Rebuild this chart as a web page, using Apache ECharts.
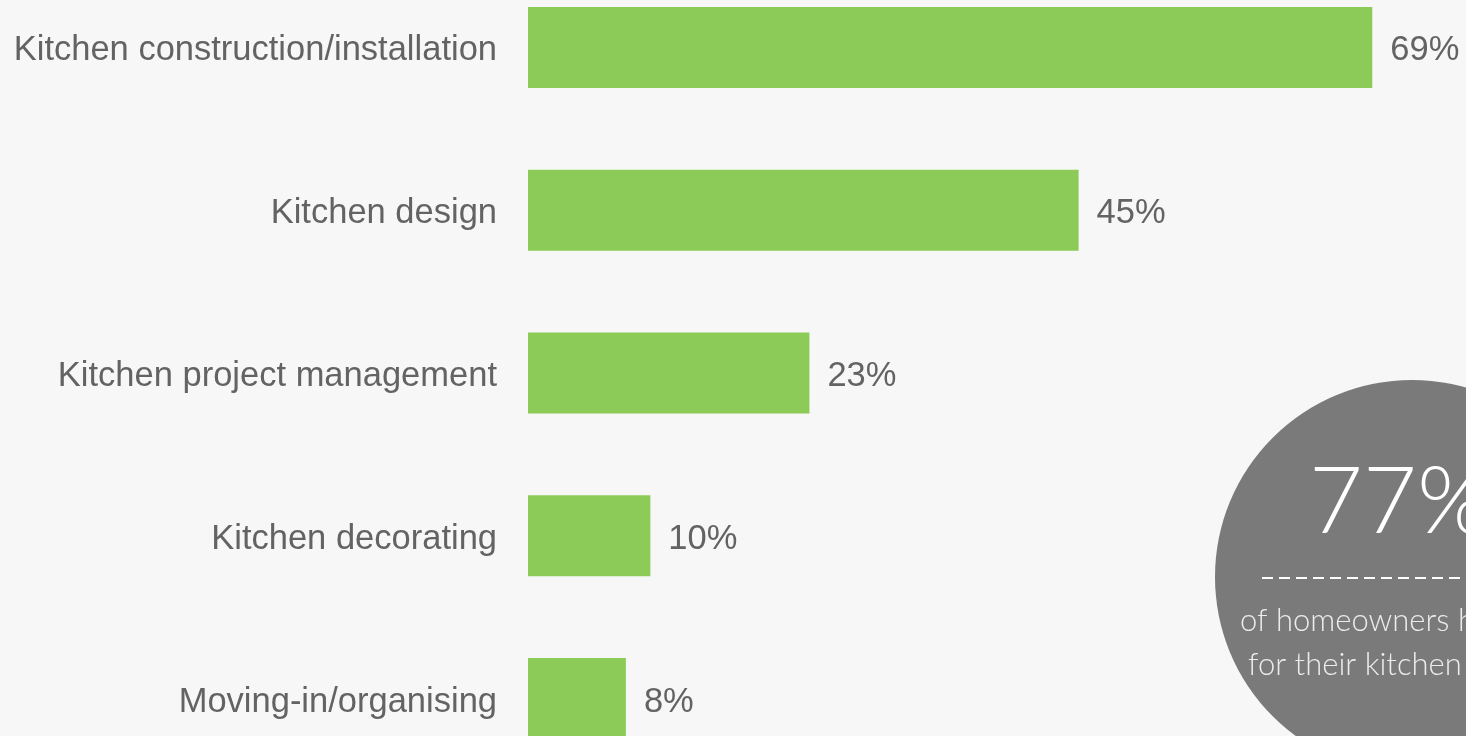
<!DOCTYPE html>
<html>
<head>
<meta charset="utf-8">
<script src="https://cdn.jsdelivr.net/npm/echarts@6/dist/echarts.min.js"></script>
<style>
html,body{margin:0;padding:0;background:#f7f7f7;width:1466px;height:736px;overflow:hidden;position:relative;}
#c{position:absolute;left:0;top:-34px;width:1466px;height:814px;}
</style>
</head>
<body>
<div id="c"></div>
<script>
const categories = ["Kitchen construction/installation","Kitchen design","Kitchen project management","Kitchen decorating","Moving-in/organising"];
const values = [69, 45, 23, 10, 8];
const calloutValue = "77%";
const calloutLines = ["of homeowners hired professionals", "for their kitchen project"];

const OFF = 34; // container is shifted up by this many pixels
const labelRich = {t: {color: '#636363', fontSize: 34.5, fontFamily: 'Liberation Sans, Arial, sans-serif', padding: [7, 0, 0, 0]}};
const chart = echarts.init(document.getElementById('c'), null, {renderer:'canvas'});
chart.setOption({
  backgroundColor: '#f7f7f7',
  animation: false,
  grid: {left: 528, right: 81.5, top: 0, bottom: 0, containLabel: false},
  xAxis: {type: 'value', min: 0, max: 70, show: false},
  yAxis: {
    type: 'category', data: categories, inverse: true,
    axisLine: {show: false}, axisTick: {show: false}, splitLine: {show: false},
    axisLabel: {margin: 31, formatter: v => '{t|' + v + '}', rich: labelRich}
  },
  series: [{
    type: 'bar', data: values, barWidth: 81,
    itemStyle: {color: '#8ccb57'},
    label: {show: true, position: 'right', distance: 18, formatter: p => '{t|' + p.value + '%}', rich: labelRich}
  }],
  graphic: [
    {type: 'circle', shape: {cx: 1412, cy: 577 + OFF, r: 197}, style: {fill: '#7a7a7a'}, z: 10},
    {type: 'text', x: 1309, y: 549.6 + OFF, z: 11, style: {text: calloutValue, fill: '#ffffff', font: '300 93px Lato, "Open Sans", sans-serif', verticalAlign: 'bottom'}},
    {type: 'line', shape: {x1: 1262, y1: 578 + OFF, x2: 1480, y2: 578 + OFF}, z: 11, style: {stroke: '#ffffff', lineWidth: 2, lineDash: [11, 6]}},
    {type: 'text', x: 1240, y: 636.3 + OFF, z: 11, style: {text: calloutLines[0], fill: '#ececec', font: '300 31px Lato, "Open Sans", sans-serif', verticalAlign: 'bottom'}},
    {type: 'text', x: 1248, y: 680.3 + OFF, z: 11, style: {text: calloutLines[1], fill: '#ececec', font: '300 31px Lato, "Open Sans", sans-serif', verticalAlign: 'bottom'}}
  ]
});
</script>
</body>
</html>
